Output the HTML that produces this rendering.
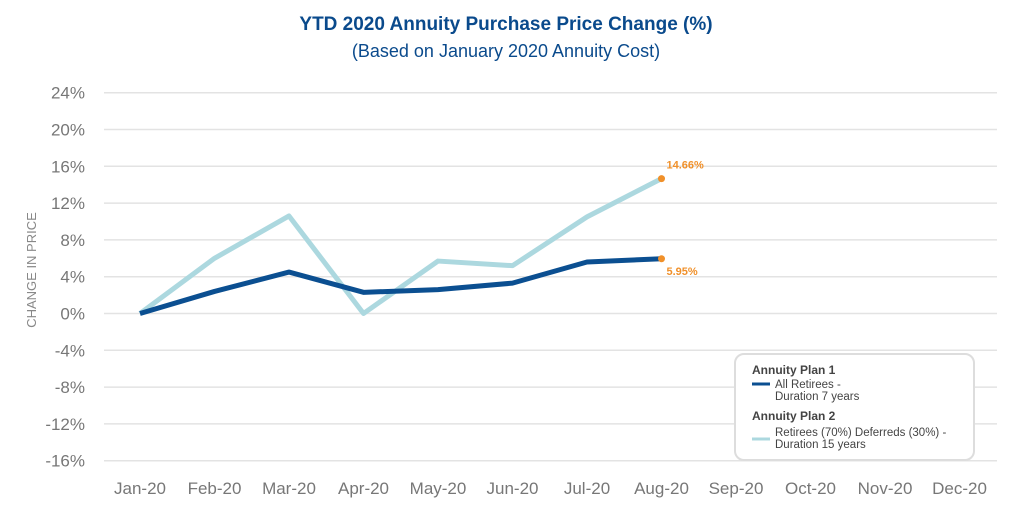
<!DOCTYPE html>
<html><head><meta charset="utf-8"><style>
body{margin:0;background:#fff;width:1013px;height:508px;overflow:hidden;font-family:"Liberation Sans",sans-serif}
</style></head><body>
<svg id="c" width="1013" height="508">
<text x="506" y="30" text-anchor="middle" font-size="19" font-weight="bold" fill="#0a4a8c">YTD 2020 Annuity Purchase Price Change (%)</text>
<text x="506" y="57" text-anchor="middle" font-size="18" fill="#0a4a8c">(Based on January 2020 Annuity Cost)</text>
<text transform="translate(36,270) rotate(-90)" text-anchor="middle" font-size="13" fill="#888">CHANGE IN PRICE</text>
<g id="grid"></g><g id="series"></g>
<g>
<rect x="735" y="354" width="239" height="106" rx="9" fill="#fff" stroke="#ddd" stroke-width="2"/>
<text x="752" y="374" font-size="12" font-weight="bold" fill="#444">Annuity Plan 1</text>
<line x1="752" y1="384" x2="770" y2="384" stroke="#0b4f91" stroke-width="3"/>
<text x="775" y="388" font-size="11.5" fill="#444">All Retirees -</text>
<text x="775" y="400" font-size="11.5" fill="#444">Duration 7 years</text>
<text x="752" y="420" font-size="12" font-weight="bold" fill="#444">Annuity Plan 2</text>
<line x1="752" y1="439" x2="770" y2="439" stroke="#acd8df" stroke-width="3"/>
<text x="775" y="436" font-size="11.5" fill="#444">Retirees (70%) Deferreds (30%) -</text>
<text x="775" y="448" font-size="11.5" fill="#444">Duration 15 years</text>
</g>
</svg>
<script>
const months=["Jan-20","Feb-20","Mar-20","Apr-20","May-20","Jun-20","Jul-20","Aug-20","Sep-20","Oct-20","Nov-20","Dec-20"];
const yTicks=[24,20,16,12,8,4,0,-4,-8,-12,-16];
const plan1=[0,2.4,4.5,2.3,2.6,3.3,5.6,5.95];
const plan2=[0,6.0,10.6,0,5.7,5.2,10.5,14.66];
const NS="http://www.w3.org/2000/svg";
const X=i=>140+i*74.5;
const Y=v=>313.5-v*9.2;
function mk(t,a,p){const e=document.createElementNS(NS,t);for(const k in a)e.setAttribute(k,a[k]);p.appendChild(e);return e;}
const grid=document.getElementById('grid'),ser=document.getElementById('series');
yTicks.forEach(v=>{
 const l=mk('line',{x1:104,x2:997,y1:Y(v),y2:Y(v),stroke:'#e3e3e3','stroke-width':1.5},grid);
 
 
 const t=mk('text',{x:85,y:Y(v)+6,'text-anchor':'end','font-size':17,fill:'#777'},grid);t.textContent=v+'%';
 
 
});
months.forEach((m,i)=>{
 const t=mk('text',{x:X(i),y:494,'text-anchor':'middle','font-size':17,fill:'#777'},grid);t.textContent=m;
 
 
});
function line(d,c,name){
 const p=mk('polyline',{points:d.map((v,i)=>X(i)+','+Y(v)).join(' '),fill:'none',stroke:c,'stroke-width':5,'stroke-linejoin':'round'},ser);
 
 
}
line(plan2,'#acd8df','plan2-line');
line(plan1,'#0b4f91','plan1-line');
[[plan2,-10],[plan1,16]].forEach(([d,dy],k)=>{
 const n=d.length-1;
 const c=mk('circle',{cx:X(n),cy:Y(d[n]),r:3.5,fill:'#f0902a'},ser);
 
 
 const t=mk('text',{x:X(n)+5,y:Y(d[n])+dy,'font-size':11,'font-weight':'bold',fill:'#f0902a'},ser);
 t.textContent=d[n].toFixed(2)+'%';
 
 
});
</script>
</body></html>
